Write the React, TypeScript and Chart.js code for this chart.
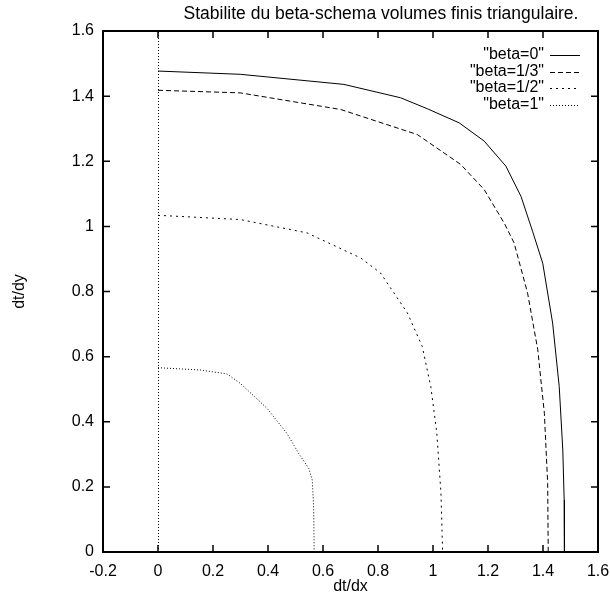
import React, { useEffect, useRef } from "react";
import { Chart, registerables } from "chart.js";

Chart.register(...registerables);

const chartTitle = "Stabilite du beta-schema volumes finis triangulaire.";
const xAxisTitle = "dt/dx";
const yAxisTitle = "dt/dy";

const xMin = -0.2;
const xMax = 1.6;
const yMin = 0;
const yMax = 1.6;
const tickStep = 0.2;

const seriesLabels = ['"beta=0"', '"beta=1/3"', '"beta=1/2"', '"beta=1"'];

const beta0X = [0, 0.299, 0.676, 0.882, 0.98, 1.095, 1.186, 1.265, 1.32, 1.362, 1.399, 1.435, 1.459, 1.472, 1.477, 1.478];
const beta0Y = [1.477, 1.467, 1.436, 1.395, 1.361, 1.318, 1.262, 1.185, 1.092, 0.985, 0.887, 0.703, 0.508, 0.313, 0.159, 0];

const beta13X = [0, 0.299, 0.664, 0.943, 1.101, 1.186, 1.259, 1.295, 1.344, 1.381, 1.405, 1.417, 1.419];
const beta13Y = [1.418, 1.41, 1.359, 1.282, 1.19, 1.113, 1.01, 0.949, 0.795, 0.621, 0.426, 0.21, 0];

const beta12X = [0, 0.299, 0.542, 0.737, 0.809, 0.907, 0.961, 0.992, 1.014, 1.029, 1.035];
const beta12Y = [1.034, 1.021, 0.98, 0.903, 0.857, 0.734, 0.631, 0.508, 0.364, 0.18, 0];

const beta1X = [0, 0.153, 0.251, 0.299, 0.397, 0.469, 0.512, 0.548, 0.561, 0.566, 0.568];
const beta1Y = [0.566, 0.559, 0.547, 0.518, 0.441, 0.364, 0.302, 0.257, 0.221, 0.138, 0];

const seriesX = [beta0X, beta13X, beta12X, beta1X];
const seriesY = [beta0Y, beta13Y, beta12Y, beta1Y];
const seriesDash: number[][] = [[], [5, 3], [2, 4], [1, 2]];

const FONT = '"Liberation Sans", Arial, Helvetica, sans-serif';

const fmt = (v: number) => String(Math.round(v * 10) / 10);

const gnuplotPlugin = {
  id: "gnuplotDecor",
  beforeDatasetsDraw(chart: any) {
    const { ctx, chartArea: a, scales } = chart;
    const x0 = Math.round(scales.x.getPixelForValue(0)) + 0.5;
    ctx.save();
    ctx.strokeStyle = "#000";
    ctx.lineWidth = 1;
    ctx.setLineDash([1, 2]);
    ctx.beginPath();
    ctx.moveTo(x0, a.bottom);
    ctx.lineTo(x0, a.top);
    ctx.stroke();
    ctx.restore();
  },
  afterDraw(chart: any) {
    const { ctx, chartArea: a, scales } = chart;
    const xs = scales.x;
    const ys = scales.y;
    const L = a.left;
    const R = a.right;
    const T = a.top;
    const B = a.bottom;
    const tl = 7;
    ctx.save();
    ctx.setLineDash([]);
    ctx.strokeStyle = "#000";
    ctx.fillStyle = "#000";

    // frame
    ctx.lineWidth = 2;
    ctx.beginPath();
    ctx.moveTo(L, T);
    ctx.lineTo(R, T);
    ctx.lineTo(R, B);
    ctx.lineTo(L, B);
    ctx.closePath();
    ctx.stroke();

    // inward ticks on all four sides
    ctx.lineWidth = 1.5;
    ctx.beginPath();
    xs.ticks.forEach((t: any) => {
      const px = xs.getPixelForValue(t.value);
      ctx.moveTo(px, B);
      ctx.lineTo(px, B - tl);
      ctx.moveTo(px, T);
      ctx.lineTo(px, T + tl);
    });
    ys.ticks.forEach((t: any) => {
      const py = ys.getPixelForValue(t.value);
      ctx.moveTo(L, py);
      ctx.lineTo(L + tl, py);
      ctx.moveTo(R, py);
      ctx.lineTo(R - tl, py);
    });
    ctx.stroke();

    // texts
    ctx.lineWidth = 1;
    ctx.textBaseline = "middle";
    ctx.textAlign = "center";
    ctx.font = `17.5px ${FONT}`;
    ctx.fillText(chartTitle, 381, 14);
    ctx.font = `16px ${FONT}`;
    ctx.fillText(xAxisTitle, (a.left + a.right) / 2, 587);
    ctx.save();
    ctx.translate(20, (a.top + a.bottom) / 2);
    ctx.rotate(-Math.PI / 2);
    ctx.fillText(yAxisTitle, 0, 0);
    ctx.restore();

    // legend (gnuplot style: text right-aligned, sample to the right)
    ctx.textAlign = "right";
    seriesLabels.forEach((label, i) => {
      const yy = 55 + i * 16.5;
      ctx.fillText(label, 544, yy);
      const ly = Math.round(yy) + 0.5;
      ctx.setLineDash(seriesDash[i]);
      ctx.beginPath();
      ctx.moveTo(550, ly);
      ctx.lineTo(580, ly);
      ctx.stroke();
    });
    ctx.restore();
  },
};

export default function App() {
  const canvasRef = useRef<HTMLCanvasElement | null>(null);

  useEffect(() => {
    if (!canvasRef.current) return;
    const datasets = seriesLabels.map((label, i) => ({
      label,
      data: seriesX[i].map((x, k) => ({ x, y: seriesY[i][k] })),
      showLine: true,
      borderColor: "#000",
      backgroundColor: "#000",
      borderWidth: 1,
      borderDash: seriesDash[i],
      pointRadius: 0,
      pointHoverRadius: 0,
      fill: false,
      tension: 0,
    }));

    const tickFont = { family: FONT, size: 16 };

    const chart = new Chart(canvasRef.current, {
      type: "scatter",
      data: { datasets },
      options: {
        responsive: false,
        animation: false,
        events: [],
        layout: { padding: { top: 31, right: 12, left: 0, bottom: 0 } },
        plugins: {
          legend: { display: false },
          title: { display: false },
          tooltip: { enabled: false },
        },
        scales: {
          x: {
            type: "linear",
            min: xMin,
            max: xMax,
            grid: { display: false, drawTicks: false },
            border: { display: false },
            ticks: {
              stepSize: tickStep,
              padding: 10,
              color: "#000",
              font: tickFont,
              maxRotation: 0,
              autoSkip: false,
              callback: (v: any) => fmt(Number(v)),
            },
            afterFit: (s: any) => {
              s.height = 43;
              s.paddingLeft = 0;
              s.paddingRight = 0;
            },
          },
          y: {
            type: "linear",
            min: yMin,
            max: yMax,
            grid: { display: false, drawTicks: false },
            border: { display: false },
            ticks: {
              stepSize: tickStep,
              padding: 9,
              color: "#000",
              font: tickFont,
              autoSkip: false,
              callback: (v: any) => fmt(Number(v)),
            },
            afterFit: (s: any) => {
              s.width = 103;
              s.paddingTop = 0;
              s.paddingBottom = 0;
            },
          },
        },
      },
      plugins: [gnuplotPlugin],
    });
    return () => chart.destroy();
  }, []);

  return (
    <div style={{ position: "absolute", left: 0, top: 0, width: 610, height: 595, background: "#fff" }}>
      <canvas ref={canvasRef} width={610} height={595} style={{ display: "block" }} />
    </div>
  );
}
